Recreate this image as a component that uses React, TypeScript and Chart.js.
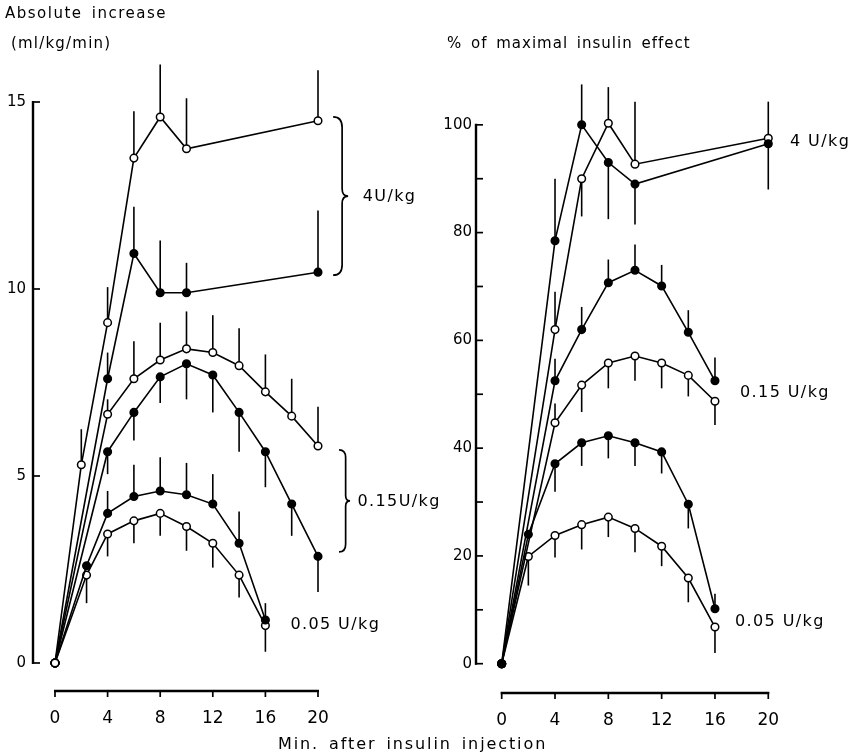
import React, { useEffect, useRef } from "react";
import { Chart, registerables } from "chart.js";

Chart.register(...registerables);

const FONT = '"DejaVu Sans", "Liberation Sans", sans-serif';

// ---------------- Left panel: absolute increase (ml/kg/min) ----------------
const L_X_TICKS = [0, 4, 8, 12, 16, 20];
const L_Y_TICKS = [0, 5, 10, 15];

// 4 U/kg
const L_4U_OPEN_X = [0, 2, 4, 6, 8, 10, 20];
const L_4U_OPEN_Y = [0, 5.3, 9.1, 13.5, 14.6, 13.75, 14.5];
const L_4U_OPEN_ERR = [null, 6.25, 10.05, 14.75, 16.0, 15.1, 15.85];

const L_4U_FILLED_X = [0, 4, 6, 8, 10, 20];
const L_4U_FILLED_Y = [0, 7.6, 10.95, 9.9, 9.9, 10.45];
const L_4U_FILLED_ERR = [null, 8.3, 12.2, 11.3, 10.7, 12.1];

// 0.15 U/kg
const L_015_OPEN_X = [0, 4, 6, 8, 10, 12, 14, 16, 18, 20];
const L_015_OPEN_Y = [0, 6.65, 7.6, 8.1, 8.4, 8.3, 7.95, 7.25, 6.6, 5.8];
const L_015_OPEN_ERR = [null, 7.05, 8.6, 9.1, 9.4, 9.3, 8.95, 8.25, 7.6, 6.85];

const L_015_FILLED_X = [0, 4, 6, 8, 10, 12, 14, 16, 18, 20];
const L_015_FILLED_Y = [0, 5.65, 6.7, 7.65, 8.0, 7.7, 6.7, 5.65, 4.25, 2.85];
const L_015_FILLED_ERR = [null, 5.05, 5.95, 6.95, 7.05, 6.7, 5.65, 4.7, 3.4, 1.9];

// 0.05 U/kg
const L_005_FILLED_X = [0, 2.4, 4, 6, 8, 10, 12, 14, 16];
const L_005_FILLED_Y = [0, 2.6, 4.0, 4.45, 4.6, 4.5, 4.25, 3.2, 1.15];
const L_005_FILLED_ERR = [null, null, 4.6, 5.3, 5.5, 5.35, 5.05, 4.05, 1.6];

const L_005_OPEN_X = [0, 2.4, 4, 6, 8, 10, 12, 14, 16];
const L_005_OPEN_Y = [0, 2.35, 3.45, 3.8, 4.0, 3.65, 3.2, 2.35, 1.0];
const L_005_OPEN_ERR = [null, 1.6, 2.85, 3.2, 3.4, 3.0, 2.55, 1.75, 0.3];

// ---------------- Right panel: % of maximal insulin effect ----------------
const R_X_TICKS = [0, 4, 8, 12, 16, 20];
const R_Y_TICKS = [0, 20, 40, 60, 80, 100];
const R_Y_MINOR = [10, 30, 50, 70, 90];

const R_4U_FILLED_X = [0, 4, 6, 8, 10, 20];
const R_4U_FILLED_Y = [0, 78.5, 100, 93, 89, 96.5];
const R_4U_FILLED_ERR = [null, 90, 107.5, 82.5, 81.5, 88];

const R_4U_OPEN_X = [0, 4, 6, 8, 10, 20];
const R_4U_OPEN_Y = [0, 62, 90, 100.3, 92.7, 97.5];
const R_4U_OPEN_ERR = [null, 69, 83, 107, 104.3, 104.3];

const R_015_FILLED_X = [0, 4, 6, 8, 10, 12, 14, 16];
const R_015_FILLED_Y = [0, 52.5, 62, 70.7, 73, 70.1, 61.5, 52.5];
const R_015_FILLED_ERR = [null, 56.6, 66.2, 75, 77.8, 74, 65.6, 56.8];

const R_015_OPEN_X = [0, 4, 6, 8, 10, 12, 14, 16];
const R_015_OPEN_Y = [0, 44.7, 51.7, 55.8, 57.1, 55.8, 53.5, 48.7];
const R_015_OPEN_ERR = [null, 48.3, 46.7, 51.1, 52.5, 51.1, 49.6, 44.3];

const R_005_FILLED_X = [0, 2, 4, 6, 8, 10, 12, 14, 16];
const R_005_FILLED_Y = [0, 24, 37.1, 41, 42.3, 41, 39.3, 29.6, 10.2];
const R_005_FILLED_ERR = [null, null, 31.9, 36.7, 38.1, 36.7, 35.3, 25.1, 13];

const R_005_OPEN_X = [0, 2, 4, 6, 8, 10, 12, 14, 16];
const R_005_OPEN_Y = [0, 19.9, 23.8, 25.8, 27.2, 25.1, 21.8, 15.9, 6.8];
const R_005_OPEN_ERR = [null, 14.5, 19.7, 21.2, 23.5, 20.7, 18.1, 11.4, 2.0];

// ---------------- Labels ----------------
const L_LABELS = ["4U/kg", "0.15U/kg", "0.05 U/kg"];
const R_LABELS = ["4 U/kg", "0.15 U/kg", "0.05 U/kg"];

type Series = { x: number[]; y: number[]; err: (number | null)[]; filled: boolean };
type Note = { text: string; x: number; y: number };
type Brace = { x: number; yTop: number; yBot: number; w: number };

type PanelCfg = {
  series: Series[];
  xMin: number;
  xMax: number;
  yMin: number;
  yMax: number;
  xTicks: number[];
  yTicks: number[];
  yMinor: number[];
  yAxisTop: number;
  padTop: number;
  padRight: number;
  padBottom: number;
  yWidth: number;
  xHeight: number;
  xLabelPad: number;
  yLabelPad: number;
  notes: Note[];
  braces: Brace[];
};

const S = (x: number[], y: number[], err: (number | null)[], filled: boolean): Series => ({ x, y, err, filled });

const LEFT: PanelCfg = {
  series: [
    S(L_4U_OPEN_X, L_4U_OPEN_Y, L_4U_OPEN_ERR, false),
    S(L_4U_FILLED_X, L_4U_FILLED_Y, L_4U_FILLED_ERR, true),
    S(L_015_OPEN_X, L_015_OPEN_Y, L_015_OPEN_ERR, false),
    S(L_015_FILLED_X, L_015_FILLED_Y, L_015_FILLED_ERR, true),
    S(L_005_FILLED_X, L_005_FILLED_Y, L_005_FILLED_ERR, true),
    S(L_005_OPEN_X, L_005_OPEN_Y, L_005_OPEN_ERR, false),
  ],
  xMin: -1.673,
  xMax: 26.236,
  yMin: -0.749,
  yMax: 16.123,
  xTicks: L_X_TICKS,
  yTicks: L_Y_TICKS,
  yMinor: [],
  yAxisTop: 15,
  padTop: 60,
  padRight: 46,
  padBottom: 14,
  yWidth: 33,
  xHeight: 50,
  xLabelPad: 17,
  yLabelPad: 7,
  notes: [
    { text: L_LABELS[0], x: 23.4, y: 12.46 },
    { text: L_LABELS[1], x: 23.0, y: 4.3 },
    { text: L_LABELS[2], x: 17.9, y: 1.02 },
  ],
  braces: [
    { x: 21.15, yTop: 14.6, yBot: 10.37, w: 15 },
    { x: 21.6, yTop: 5.7, yBot: 2.97, w: 11 },
  ],
};

const RIGHT: PanelCfg = {
  series: [
    S(R_4U_FILLED_X, R_4U_FILLED_Y, R_4U_FILLED_ERR, true),
    S(R_4U_OPEN_X, R_4U_OPEN_Y, R_4U_OPEN_ERR, false),
    S(R_015_FILLED_X, R_015_FILLED_Y, R_015_FILLED_ERR, true),
    S(R_015_OPEN_X, R_015_OPEN_Y, R_015_OPEN_ERR, false),
    S(R_005_FILLED_X, R_005_FILLED_Y, R_005_FILLED_ERR, true),
    S(R_005_OPEN_X, R_005_OPEN_Y, R_005_OPEN_ERR, false),
  ],
  xMin: -1.928,
  xMax: 24.33,
  yMin: -5.44,
  yMax: 112.03,
  xTicks: R_X_TICKS,
  yTicks: R_Y_TICKS,
  yMinor: R_Y_MINOR,
  yAxisTop: 100,
  padTop: 60,
  padRight: 27,
  padBottom: 12,
  yWidth: 50,
  xHeight: 50,
  xLabelPad: 17,
  yLabelPad: 4,
  notes: [
    { text: R_LABELS[0], x: 21.63, y: 96.8 },
    { text: R_LABELS[1], x: 17.88, y: 50.2 },
    { text: R_LABELS[2], x: 17.5, y: 7.7 },
  ],
  braces: [],
};

function drawBrace(ctx: CanvasRenderingContext2D, x: number, yTop: number, yBot: number, w: number) {
  const yMid = (yTop + yBot) / 2;
  const m = x + w * 0.6;
  const r = Math.min(w * 0.7, (yBot - yTop) / 6);
  ctx.beginPath();
  ctx.moveTo(x, yTop);
  ctx.quadraticCurveTo(m, yTop, m, yTop + r);
  ctx.lineTo(m, yMid - r * 0.7);
  ctx.quadraticCurveTo(m, yMid, x + w, yMid);
  ctx.quadraticCurveTo(m, yMid, m, yMid + r * 0.7);
  ctx.lineTo(m, yBot - r);
  ctx.quadraticCurveTo(m, yBot, x, yBot);
  ctx.stroke();
}

function makeChart(canvas: HTMLCanvasElement, cfg: PanelCfg) {
  const decor = {
    id: "decor",
    beforeDatasetsDraw(chart: any) {
      const ctx = chart.ctx as CanvasRenderingContext2D;
      const xs = chart.scales.x;
      const ys = chart.scales.y;
      ctx.save();
      ctx.strokeStyle = "#000";
      ctx.lineWidth = 1.6;
      ctx.lineCap = "butt";
      cfg.series.forEach((s) => {
        s.err.forEach((e, i) => {
          if (e === null || e === undefined) return;
          const px = xs.getPixelForValue(s.x[i]);
          ctx.beginPath();
          ctx.moveTo(px, ys.getPixelForValue(s.y[i]));
          ctx.lineTo(px, ys.getPixelForValue(e));
          ctx.stroke();
        });
      });
      ctx.restore();
    },
    afterDraw(chart: any) {
      const ctx = chart.ctx as CanvasRenderingContext2D;
      const xs = chart.scales.x;
      const ys = chart.scales.y;
      const area = chart.chartArea;
      ctx.save();
      ctx.strokeStyle = "#000";
      ctx.fillStyle = "#000";
      // y axis
      const ax = area.left;
      ctx.lineWidth = 2.4;
      ctx.beginPath();
      ctx.moveTo(ax, ys.getPixelForValue(0) + 1);
      ctx.lineTo(ax, ys.getPixelForValue(cfg.yAxisTop) - 1);
      ctx.stroke();
      ctx.lineWidth = 1.7;
      [...cfg.yTicks, ...cfg.yMinor].forEach((v) => {
        const py = ys.getPixelForValue(v);
        ctx.beginPath();
        ctx.moveTo(ax - 1, py);
        ctx.lineTo(ax + 7, py);
        ctx.stroke();
      });
      // x axis
      const ay = area.bottom;
      const x0 = xs.getPixelForValue(cfg.xTicks[0]);
      const x1 = xs.getPixelForValue(cfg.xTicks[cfg.xTicks.length - 1]);
      ctx.lineWidth = 2.4;
      ctx.beginPath();
      ctx.moveTo(x0 - 1, ay);
      ctx.lineTo(x1 + 1, ay);
      ctx.stroke();
      ctx.lineWidth = 1.7;
      cfg.xTicks.forEach((v) => {
        const px = xs.getPixelForValue(v);
        ctx.beginPath();
        ctx.moveTo(px, ay - 1);
        ctx.lineTo(px, ay + 6);
        ctx.stroke();
      });
      // braces
      ctx.lineWidth = 1.7;
      cfg.braces.forEach((b) => {
        drawBrace(ctx, xs.getPixelForValue(b.x), ys.getPixelForValue(b.yTop), ys.getPixelForValue(b.yBot), b.w);
      });
      // notes
      ctx.font = `16px ${FONT}`;
      (ctx as any).letterSpacing = "1.4px";
      ctx.textAlign = "left";
      ctx.textBaseline = "middle";
      cfg.notes.forEach((n) => {
        ctx.fillText(n.text, xs.getPixelForValue(n.x), ys.getPixelForValue(n.y));
      });
      ctx.restore();
    },
  };

  const datasets = cfg.series.map((s) => ({
    data: s.x.map((x, i) => ({ x, y: s.y[i] })),
    borderColor: "#000",
    borderWidth: 1.6,
    pointRadius: 3.8,
    pointBorderWidth: 1.5,
    pointBorderColor: "#000",
    pointBackgroundColor: s.filled ? "#000" : "#fff",
    backgroundColor: s.filled ? "#000" : "#fff",
    tension: 0,
    fill: false,
    clip: false as any,
  }));

  return new Chart(canvas, {
    type: "line",
    data: { datasets },
    plugins: [decor],
    options: {
      animation: false,
      responsive: false,
      maintainAspectRatio: false,
      events: [],
      layout: { padding: { left: 0, top: cfg.padTop, right: cfg.padRight, bottom: cfg.padBottom } },
      plugins: { legend: { display: false }, tooltip: { enabled: false }, title: { display: false } },
      scales: {
        x: {
          type: "linear",
          min: cfg.xMin,
          max: cfg.xMax,
          grid: { display: false, drawTicks: false },
          border: { display: false },
          afterBuildTicks: (s: any) => {
            s.ticks = cfg.xTicks.map((v) => ({ value: v }));
          },
          afterFit: (s: any) => {
            s.height = cfg.xHeight;
          },
          ticks: {
            autoSkip: false,
            maxRotation: 0,
            padding: cfg.xLabelPad,
            color: "#000",
            font: { family: FONT, size: 17 },
            callback: (v: any) => String(v),
          },
        },
        y: {
          type: "linear",
          min: cfg.yMin,
          max: cfg.yMax,
          grid: { display: false, drawTicks: false },
          border: { display: false },
          afterBuildTicks: (s: any) => {
            s.ticks = cfg.yTicks.map((v) => ({ value: v }));
          },
          afterFit: (s: any) => {
            s.width = cfg.yWidth;
          },
          ticks: {
            autoSkip: false,
            padding: cfg.yLabelPad,
            color: "#000",
            font: { family: FONT, size: 15 },
            callback: (v: any) => String(v),
          },
        },
      },
    } as any,
  });
}

function Panel({ cfg, left, width }: { cfg: PanelCfg; left: number; width: number }) {
  const ref = useRef<HTMLCanvasElement | null>(null);
  useEffect(() => {
    if (!ref.current) return;
    const chart = makeChart(ref.current, cfg);
    return () => chart.destroy();
  }, [cfg]);
  return (
    <canvas
      ref={ref}
      width={width}
      height={755}
      style={{ position: "absolute", left, top: 0, width, height: 755 }}
    />
  );
}

const textStyle = (left: number, top: number, size: number, spacing: number): React.CSSProperties => ({
  position: "absolute",
  left,
  top,
  fontFamily: FONT,
  fontSize: size,
  letterSpacing: `${spacing}px`,
  wordSpacing: "3px",
  color: "#000",
  whiteSpace: "nowrap",
  lineHeight: 1,
});

export default function App() {
  return (
    <div
      style={{
        position: "fixed",
        left: 0,
        top: 0,
        width: 853,
        height: 755,
        background: "#fff",
        overflow: "hidden",
      }}
    >
      <Panel cfg={RIGHT} left={426} width={427} />
      <Panel cfg={LEFT} left={0} width={446} />
      <div style={textStyle(5, 6, 15, 1.5)}>Absolute increase</div>
      <div style={textStyle(11, 36, 15, 1.2)}>(ml/kg/min)</div>
      <div style={textStyle(447, 36, 15, 1.0)}>% of maximal insulin effect</div>
      <div style={textStyle(278, 736, 16, 1.9)}>Min. after insulin injection</div>
    </div>
  );
}
